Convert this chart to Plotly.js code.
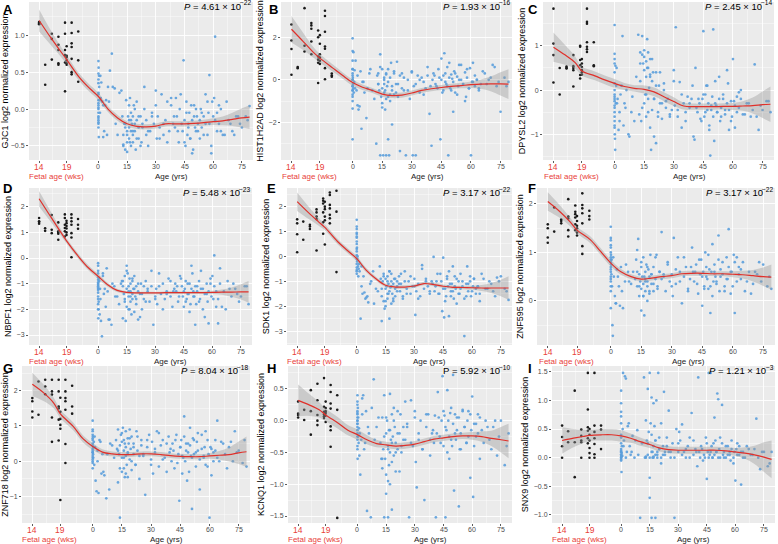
<!DOCTYPE html>
<html><head><meta charset="utf-8">
<script src="https://cdn.plot.ly/plotly-3.0.1.min.js"></script>
<style>html,body{margin:0;padding:0;background:#fff}#chart{width:778px;height:544px}</style>
</head><body><div id="chart"></div>
<script>
// ---------------- DATA ----------------
const genes = ['GJC1','HIST1H2AD','DPYSL2','NBPF1','SDK1','ZNF595','ZNF718','KCNQ1','SNX9'];
const panelLetters = ['A','B','C','D','E','F','G','H','I'];
const pMantissa = ['4.61','1.93','2.45','5.48','3.17','3.17','8.04','5.92','1.21'];
const pExponent = ['−22','−16','−14','−23','−22','−22','−18','−10','−3'];

// shared x-axis: fetal weeks (14..21) drawn left of birth, then age in years
const xTickPos = [-31,-16.6,0,15,30,45,60,75];
const xTickLabels = ['14','19','0','15','30','45','60','75'];
const fetalTickCount = 2; // first two ticks are fetal weeks (red)

const fetalWeeks = [14,14,14,14, 15.1,15.1, 16.3,16.3,16.3, 17.5,17.5,17.5,17.5,17.5,
  18.7,18.7,18.7,18.7,18.7,18.7, 19,19,19,19,19,19, 19.9,19.9,19.9,19.9,19.9,19.9,19.9, 21.1,21.1,21.1];
const postnatalAges = [0,0,0,0,0,0,0,0,0,0,0,0,0.1,0.2,0.3,0.4,0.6,0.8,
  1,1.5,2,2.5,3,4,4.5,5,6,7,8.5,10,
  12,13,13,13.5,14,14,14.5,15,15,15,15.5,16,16,16,16.5,17,17,17,17.5,18,18,18,18.5,19,19,19.5,20,20,21,21,
  22,22.5,23,24,25,26,27,28,29,30,30.5,31,32,33,34,35,36,37,38,39,40,40.5,
  41,42,43,44,44.5,45,45.5,46,46.5,47,48,48.5,49,50,50.5,51,52,53,54,55,56,57,58,59,60,60.5,
  61,62,63,64,65,67,69,71,73,75,77,79,
  0,0,0,0,0,0, 1.2,2.5,3.5,5.5,7.5,9,11,12.5,
  13,14,15,16,16.5,17,18,19,20,21,22,23,24,25,
  26,28,30,32,34,36,38,39.5,
  41.5,42.5,43.5,45,46,47,47.5,48,49,49.5,50,51,51.5,52,53,53.5,54,55,56,57,57.5,58,59,59.5,61,62,
  63,64,66,68,70,72,74,78];

// expression values (log2 normalized)
const A_fetal = [1.17,1.15,1.18,1.16, 0.6,0.33, 1.02,0.67,0.95, 0.98,0.87,0.8,0.62,0.6, 1.17,1.02,0.8,0.73,0.63,0.24, 0.72,0.6,0.66,0.85,0.7,0.62, 1.17,1.03,0.89,0.84,0.68,0.5,0.47, 1.05,0.37,0.66];
const A_post = [0.65,0.48,0.2,0.12,0.05,0.0,-0.05,-0.1,-0.15,-0.18,-0.2,0.08,0.56,-0.38,0.45,0.3,0.12,-0.05,
  0.45,0.36,0.1,0.05,-0.3,0.12,-0.35,0.3,0.52,0.75,0.28,-0.35,
  0.25,-0.35,-0.5,-0.2,-0.25,-0.55,0.12,-0.3,-0.45,-0.58,-0.1,-0.25,-0.4,-0.15,0.15,-0.05,-0.3,-0.5,-0.2,-0.35,-0.1,-0.45,0.05,-0.2,-0.3,-0.55,-0.15,0.1,-0.25,-0.4,
  -0.1,-0.45,-0.2,0.3,-0.15,-0.5,-0.3,-0.05,-0.2,0.25,-0.4,-0.1,-0.25,0.2,-0.35,-0.15,0.1,-0.3,0.05,-0.2,-0.25,0.15,
  -0.1,-0.45,0.2,-0.3,0.66,-0.15,-0.5,-0.05,-0.35,-0.2,-0.4,0.05,-0.6,-0.1,-0.25,0.0,-0.3,-0.15,-0.05,-0.35,-0.2,0.1,0.46,-0.5,-0.1,0.15,
  0.98,-0.05,0.05,-0.3,-0.35,0.1,-0.2,-0.35,-0.1,-0.25,-0.1,0.04,
  0.35,-0.25,0.22,-0.12,0.02,0.4, 0.15,-0.38,0.05,0.1,0.3,-0.2,0.22,-0.1,
  -0.48,-0.2,-0.35,0.05,-0.45,-0.15,-0.3,0.0,-0.4,-0.1,-0.5,-0.25,0.0,-0.35,
  -0.3,-0.1,0.05,-0.4,-0.2,-0.45,0.15,-0.1,
  -0.3,0.0,-0.2,-0.45,0.1,-0.25,-0.05,-0.4,-0.15,-0.55,0.05,-0.3,-0.1,-0.2,-0.4,0.0,-0.25,-0.1,0.2,-0.35,-0.05,-0.2,-0.6,0.1,-0.15,-0.3,
  -0.2,0.0,-0.35,-0.15,-0.3,-0.1,-0.2,-0.15];
const B_fetal = [2.6,1.85,1.45,0.24, 0.6,0.55, 3.37,1.33,1.6, 2.67,2.56,1.8,1.2,2.4, 2.32,2.0,1.1,0.95,0.8,-0.15, 1.7,1.2,0.9,1.05,2.1,0.75, 3.25,3.0,2.26,1.57,1.46,0.55,0.03, 0.2,0.15,0.3];
const B_post = [1.95,1.35,0.9,0.5,0.2,0.0,-0.3,-0.5,-0.7,-1.0,-1.35,-2.8,0.1,-0.2,-0.4,1.3,-0.6,-0.1,
  0.45,0.9,-0.5,-1.2,-1.4,0.4,-2.3,-0.1,-0.6,-1.8,0.3,-0.5,
  -3.0,0.3,-0.2,-0.5,-3.55,1.2,-0.8,0.5,-0.4,-1.1,-3.55,0.1,-0.2,-0.6,-1.4,-3.55,0.25,-0.9,-0.3,-2.8,0.5,-0.1,-3.55,-0.7,-1.0,0.8,-0.5,-2.1,0.3,-0.7,
  -0.2,0.85,-0.8,-3.35,0.3,-0.5,-3.55,0.0,-0.9,0.4,-3.55,-0.3,-3.55,0.2,-0.6,0.1,-0.1,-0.4,0.6,-1.6,-3.1,0.0,
  0.3,-0.2,-0.4,0.1,-2.8,1.0,-0.6,0.2,1.25,-0.1,-0.3,-3.55,0.8,-0.5,0.05,-1.5,0.3,-0.7,0.0,0.7,-0.2,-1.0,0.5,-0.4,-3.55,-0.1,
  0.8,-0.3,0.0,-0.5,-0.2,0.3,0.0,0.7,-0.3,-1.5,0.1,-0.1,
  0.5,-0.8,0.3,-0.3,-0.5,0.0, -0.4,0.2,-1.25,-0.1,-0.4,0.5,-0.9,0.2,
  -0.2,0.6,-1.3,0.0,-0.5,0.3,-0.8,0.1,-0.3,0.4,-0.6,-0.2,0.2,-0.4,
  0.1,-0.5,0.35,-0.2,0.0,-0.7,0.2,-0.3,
  0.2,-0.3,0.5,0.0,-0.5,0.3,-0.2,0.6,0.1,-0.4,0.25,-0.1,0.4,-0.6,0.15,-0.3,0.7,0.0,-0.2,0.35,-0.8,0.1,-0.4,0.55,-0.1,0.2,
  0.0,-0.4,0.4,-0.2,0.1,0.6,-0.1,-0.3];
const C_fetal = [1.84,1.05,0.79,0.17, -0.1,0.5, 0.53,0.49,0.5, 0.79,0.54,0.45,0.08,0.5, 1.0,0.98,0.68,0.56,0.34,0.26, 0.52,0.6,0.45,0.4,0.35,0.7, 1.84,1.54,1.5,1.08,0.98,0.92,0.86, 1.08,0.56,0.54];
const C_post = [1.47,0.82,0.7,0.15,-0.1,-0.15,-0.2,-0.35,-0.5,-0.6,-0.7,-0.85,-1.0,-1.1,-1.35,0.55,-0.3,0.1,
  0.5,-0.2,-0.9,-0.5,-0.1,1.22,-0.8,-0.3,0.0,-1.0,-0.5,-0.7,
  1.25,0.85,0.2,-0.7,1.22,0.8,0.6,-0.3,0.75,0.45,-0.1,0.65,0.3,-0.6,1.15,0.85,0.5,-0.2,0.05,0.35,-0.85,0.7,-1.35,0.2,-0.45,0.4,-1.05,-0.2,-1.2,0.4,
  -0.5,0.1,-0.3,-0.65,0.15,-0.4,-0.2,-0.55,-0.45,0.45,-0.35,1.42,-0.6,0.18,-0.85,-0.3,-0.5,-0.15,-0.4,-0.2,-1.05,-1.12,
  0.5,-0.5,-0.3,-0.7,-0.2,1.33,-0.6,-0.1,0.1,-0.45,-0.9,-1.48,-0.35,1.37,-1.15,-0.3,-0.5,0.3,-0.6,-0.2,-0.45,0.45,-0.9,-0.7,0.7,-0.25,
  -0.85,-0.5,-0.05,0.0,-0.55,-0.3,-0.6,0.58,-0.9,-0.45,-0.25,-0.5,
  0.4,-0.4,0.0,-0.8,0.6,-0.25, -0.3,-0.7,0.1,-0.4,-1.05,-0.15,0.3,-0.55,
  0.6,-0.4,0.9,-0.1,0.5,-0.5,0.3,0.7,-0.2,0.1,-0.6,0.4,-0.3,0.0,
  -0.25,-0.6,0.2,-0.45,-0.1,-0.7,-0.3,0.1,
  -0.4,-0.2,-0.65,-0.1,-0.5,0.1,-0.3,-0.8,-0.45,-0.15,-0.6,0.2,-0.35,-0.5,-0.2,-0.7,-0.4,-0.1,-0.55,-0.3,0.15,-0.45,-0.25,-0.6,-0.35,-0.15,
  -0.4,-0.2,-0.55,-0.3,-0.45,-0.6,-0.35,-0.25];
const D_fetal = [1.56,1.43,1.34,1.4, 1.16,1.06, 1.68,0.97,1.1, 1.39,0.71,1.04,1.0,0.95, 1.7,1.56,1.3,1.17,1.04,0.84, 1.36,1.25,1.15,1.0,0.9,1.45, 1.7,1.56,1.43,1.3,0.97,0.8,0.03, 1.52,1.14,1.3];
const D_post = [-0.2,-0.5,-0.75,-0.85,-0.95,-1.0,-1.05,-1.1,-1.2,-1.35,-1.5,-1.8,-2.35,-2.0,-1.7,-0.8,-0.9,-2.2,
  -1.2,-2.45,-3.05,-0.6,-1.4,-1.9,-0.4,-1.3,-2.4,-2.6,-1.1,-1.5,
  -1.0,-0.9,-2.35,-1.4,-0.7,-1.6,-2.45,-0.3,-1.2,-1.9,-0.6,-1.5,-1.1,-2.0,-0.8,-1.3,-1.7,-1.0,-2.2,-1.4,-0.9,-1.6,-1.2,-2.1,-0.7,-1.5,-1.8,-1.1,-2.4,-1.3,
  -1.4,-1.0,-2.0,-1.6,-0.9,-1.3,-1.7,-1.1,-2.6,-1.5,-1.2,-1.8,-0.6,-1.4,-1.0,-1.6,-1.3,-0.8,-1.5,-1.9,-1.2,-1.0,
  -1.3,-1.7,-0.7,-1.1,-1.5,-1.9,-1.2,-0.9,-1.6,-1.4,-1.0,-1.8,-0.3,-1.3,-1.5,-2.6,-1.1,-1.7,-0.5,-1.2,-2.3,-1.4,-2.55,-1.0,-0.7,-1.6,
  0.1,-1.3,-2.55,-0.4,-1.9,-2.0,-1.2,-1.0,-1.4,-1.5,-1.1,-1.8,
  -0.6,-1.25,-1.6,-0.3,-1.15,-2.0, -1.6,-0.7,-1.2,-2.4,-1.0,-1.5,-1.8,-0.9,
  -1.1,-1.7,-0.5,-1.3,-2.0,-1.5,-0.8,-1.2,-1.6,-1.0,-2.3,-1.4,-1.1,-1.7,
  -1.2,-0.5,-1.6,-1.1,-2.0,-1.4,-0.9,-1.3,
  -1.1,-1.5,-0.8,-1.3,-1.7,-1.0,-1.4,-2.1,-1.2,-0.6,-1.5,-1.1,-1.8,-1.3,-0.9,-1.6,-1.2,-2.0,-1.4,-1.0,-1.7,-1.3,-0.8,-1.5,-1.1,-1.9,
  -1.6,-1.0,-1.3,-0.9,-1.5,-1.2,-1.7,-1.1];
const E_fetal = [1.49,1.33,0.89,0.17, 1.4,0.67, 1.27,1.2,1.1, 1.89,1.77,0.24,1.5,1.6, 2.33,2.24,2.13,1.77,1.37,0.91, 2.0,1.9,1.6,0.48,1.45,2.2, 2.57,2.47,2.07,1.93,1.67,1.53,1.33, 2.64,-0.63,1.8];
const E_post = [1.47,1.1,0.9,0.75,0.6,0.3,0.05,-0.3,-0.45,-0.55,-0.7,0.95,0.35,-0.2,-0.1,0.0,-0.4,-0.8,
  -0.5,-0.6,-2.5,-0.4,-1.5,-1.45,-1.7,-1.65,-1.85,-1.1,-0.6,-1.3,
  -0.4,-1.6,-2.6,-1.0,-1.8,-0.7,-2.1,-1.3,-0.9,-2.0,-1.2,-1.5,-1.7,-0.8,-1.1,-2.5,-1.4,-0.6,-1.25,-1.9,-1.0,-0.7,-1.5,-1.1,-1.8,-0.9,-1.3,-1.6,-1.0,-1.2,
  -0.8,-1.4,-1.1,-1.7,-0.6,-1.3,-1.0,-1.5,-1.2,-0.9,-2.35,-1.4,-1.1,-1.6,-0.35,-1.3,-0.9,-1.2,-1.5,-1.0,-0.02,-1.4,
  -1.2,-0.7,-1.5,-1.0,-2.2,-0.05,-2.45,-1.3,-1.6,-0.8,-2.4,-1.1,-1.4,-0.4,-1.7,-1.2,-0.9,-1.5,-1.3,-1.0,-3.2,-1.6,-1.1,-0.8,-1.4,-1.2,
  -0.9,-1.5,-1.2,-1.8,-0.7,-1.3,-1.0,-1.4,-0.85,-0.8,-1.3,-1.75,
  0.5,-0.1,1.2,0.2,-0.6,0.8, -0.3,-1.2,-0.8,-1.6,-1.0,-1.9,-1.4,-0.9,
  -1.3,-0.8,-1.8,-1.0,-1.5,-0.6,-1.2,-1.7,-0.9,-1.4,-1.1,-0.7,-1.6,-1.0,
  -1.5,-0.8,-1.2,-1.7,-0.5,-1.0,-1.4,-1.1,
  -1.0,-1.5,-0.7,-1.3,-1.8,-0.9,-1.2,-0.6,-1.6,-1.1,-1.4,-0.8,-1.3,-1.9,-1.0,-1.5,-0.7,-1.2,-1.7,-1.1,-0.4,-1.4,-1.0,-1.6,-0.9,-1.3,
  -1.2,-1.5,-0.9,-1.3,-1.1,-1.6,-1.0,-1.4];
const F_fetal = [1.58,1.31,1.2,1.5, 1.93,1.43, 1.68,1.65,1.6, 2.1,1.74,1.7,1.46,1.33, 1.97,1.84,1.79,1.72,1.58,1.46, 1.41,1.5,1.55,1.65,1.35,1.75, 2.22,1.98,1.91,1.81,1.6,1.13,0.97, 1.86,1.68,1.75];
const F_post = [1.53,1.3,1.15,1.0,0.9,0.8,0.7,0.6,0.5,0.4,0.2,-0.15,0.95,0.75,0.55,0.85,0.3,-0.5,
  -0.72,0.5,0.1,-0.05,0.65,0.3,-0.1,0.7,-0.15,0.4,0.6,0.35,
  0.45,1.05,0.3,1.28,0.1,0.55,0.4,-0.2,0.7,0.25,0.5,0.9,0.1,0.35,-0.3,0.6,0.2,0.45,0.75,0.0,0.4,0.3,0.65,0.15,0.5,0.95,0.35,0.55,0.2,0.7,
  0.45,0.95,0.3,0.6,1.42,0.5,0.2,0.75,0.4,0.55,0.1,1.3,0.35,0.9,0.6,-0.05,0.5,0.7,0.25,0.45,1.1,0.6,
  0.4,0.75,0.15,0.55,0.85,-0.1,0.6,0.3,1.0,0.5,0.25,0.65,-0.25,1.17,0.4,0.6,0.35,1.35,0.5,0.8,0.2,0.45,1.48,0.6,0.3,0.95,
  -0.25,0.9,0.55,0.65,0.8,0.4,0.15,0.6,0.8,0.75,0.3,0.25,
  1.1,0.65,0.45,0.85,0.3,1.25, 0.9,-0.05,0.5,0.2,0.75,0.4,0.6,0.85,
  0.6,0.3,0.8,0.1,0.5,0.4,0.7,0.2,0.55,0.35,0.9,0.25,0.6,0.45,
  0.55,0.8,0.3,0.65,0.4,0.9,0.2,0.7,
  0.6,0.35,0.85,0.5,0.25,0.7,0.45,0.95,0.3,0.6,0.1,0.75,0.5,0.4,0.85,0.2,0.65,0.55,0.3,0.9,0.45,0.7,0.15,0.6,0.8,0.4,
  0.7,0.45,0.2,0.6,0.35,0.55,0.4,0.5];
const G_fetal = [1.79,1.7,1.41,1.24, 2.26,1.32, 2.31,2.12,1.9, 2.31,1.98,1.89,1.24,0.55, 2.31,1.98,1.55,1.5,1.18,0.59, 1.03,0.92,1.4,-1.1,1.2,1.8, 2.31,1.98,1.79,1.7,1.46,0.49,-0.05, 2.14,1.35,1.55];
const G_post = [1.15,0.85,0.6,0.45,0.35,0.25,0.15,0.05,-0.05,0.0,0.5,0.3,0.7,0.2,0.1,0.4,0.55,-0.1,
  0.7,-0.55,-0.85,0.3,-0.9,0.55,-0.35,0.2,-0.4,-1.05,-0.8,0.45,
  0.6,0.9,-0.6,0.2,0.45,-1.6,0.75,0.1,-0.3,0.55,0.95,0.3,-0.2,0.6,-0.45,0.15,0.85,0.4,-0.1,0.65,0.25,-0.45,0.5,0.05,0.9,0.35,-0.25,0.7,0.2,0.5,
  -0.1,0.85,0.3,-0.5,0.6,0.15,-0.95,0.4,0.75,0.05,0.55,-0.35,0.25,0.85,-0.15,0.45,0.6,0.1,-0.3,0.7,0.35,0.0,
  0.5,-0.2,0.75,0.2,-1.12,0.4,0.6,-0.35,0.1,1.27,0.3,-0.55,0.5,0.95,0.15,-1.35,0.6,0.25,0.8,-0.8,0.35,0.1,0.85,-0.15,-1.6,0.4,
  -0.4,0.25,0.6,1.15,0.0,0.5,-0.2,0.55,0.85,0.3,-0.05,-0.15,
  0.9,0.25,-0.2,0.65,0.1,0.75, 0.4,0.0,0.6,-0.3,0.2,0.5,0.1,0.35,
  0.3,-0.2,0.8,0.1,0.5,-0.35,0.2,0.65,0.0,0.4,-0.1,0.7,0.15,0.45,
  0.2,0.6,-0.1,0.35,0.8,0.05,0.5,0.25,
  0.3,0.6,-0.05,0.4,0.15,0.7,0.0,0.5,0.25,-0.3,0.45,0.1,0.65,0.2,-0.15,0.55,0.3,0.05,0.75,0.15,0.4,-0.1,0.6,0.2,0.35,0.0,
  0.3,0.1,0.55,0.2,0.4,0.0,0.25,0.6];
const H_fetal = [0.3,0.11,0.09,0.05, 0.17,0.01, 0.48,-0.22,0.15, 0.58,0.32,0.09,0.0,-0.07, 0.67,0.22,0.14,0.1,0.07,0.04, -0.02,0.2,0.12,0.3,0.08,0.15, 0.56,0.45,0.27,0.19,-0.09,-0.15,-0.41, 0.17,-1.53,0.4];
const H_post = [0.4,0.25,0.15,0.1,0.05,0.0,-0.05,-0.1,-0.15,-0.2,-0.3,-0.45,-0.6,0.2,-0.25,0.05,-0.35,-0.12,
  -0.55,-0.85,-0.3,0.35,0.4,-0.35,0.15,-1.42,-0.2,-1.52,0.65,-0.1,
  -0.35,0.05,-0.75,-0.45,-1.52,0.4,-0.6,-0.2,-1.15,-0.85,0.0,-1.52,-0.4,-0.95,-0.15,0.42,-0.5,-1.0,-0.3,0.1,-1.4,-0.65,-0.25,0.2,-0.55,-0.1,-0.8,-0.35,0.15,-0.45,
  -0.2,0.1,-0.5,-0.3,0.3,-0.05,-1.52,0.32,-0.4,0.15,-0.65,-1.05,-0.3,0.0,-0.45,-1.25,-0.1,0.1,-0.55,-0.2,-0.35,0.08,
  -1.52,0.45,-0.25,0.0,0.7,-0.4,0.08,-1.52,-0.15,0.48,-0.6,0.12,-0.3,0.72,-1.1,-0.2,0.05,-1.35,-0.45,0.17,-0.1,-0.35,0.15,-0.9,0.38,-1.2,
  -0.05,-0.25,0.1,-0.6,-0.15,0.0,-0.3,-0.1,-0.55,0.0,-0.7,-0.2,
  0.3,-0.05,-0.4,0.12,-0.25,0.0, -0.2,0.1,-0.45,-0.1,0.2,-0.3,0.05,-0.6,
  -0.6,-0.25,0.05,-0.45,-0.7,-0.15,-0.35,0.0,-0.5,-0.2,-0.8,-0.4,-0.1,-0.3,
  -0.1,-0.35,0.05,-0.2,-0.45,0.1,-0.3,-0.15,
  -0.2,0.05,-0.35,0.15,-0.1,-0.5,0.0,-0.25,0.2,-0.4,-0.05,0.1,-0.3,-0.15,0.05,-0.45,-0.2,0.15,-0.1,-0.35,0.0,-0.25,0.1,-0.15,-0.4,-0.05,
  -0.2,0.05,-0.35,-0.1,-0.45,0.0,-0.25,-0.4];
const I_fetal = [0.56,0.36,0.2,0.0, 0.46,0.27, 1.17,-0.34,0.27, 0.49,0.38,0.27,0.0,0.3, 1.48,0.84,0.53,0.47,0.34,0.25, 0.17,0.08,0.0,0.4,0.3,0.5, 1.48,0.56,0.45,0.34,0.24,0.06,0.0, 0.56,0.49,0.15];
const I_post = [1.17,0.95,0.72,0.6,0.35,0.15,0.1,0.05,0.0,-0.03,-0.05,0.1,0.02,-0.25,0.08,0.2,0.03,0.5,
  1.48,0.3,1.42,1.38,0.1,0.6,0.2,0.05,0.38,0.0,0.48,-1.05,
  1.4,0.65,0.0,0.3,1.2,0.05,0.45,1.48,-0.35,-0.7,0.6,0.1,1.05,-1.05,0.0,0.95,0.2,0.02,0.55,-1.05,0.3,0.05,1.0,0.1,0.0,1.48,0.35,0.15,-0.1,0.6,
  0.05,1.15,0.1,0.2,0.82,0.0,0.25,-1.05,0.5,0.1,0.45,0.3,0.58,0.1,0.0,0.2,0.35,0.78,0.05,0.15,-0.15,1.4,
  0.1,0.2,-0.05,0.0,0.35,-0.37,0.1,1.48,0.05,1.48,0.0,0.25,0.7,0.1,1.12,1.02,0.35,0.92,0.0,0.2,0.05,0.1,0.3,-0.1,-0.4,0.15,
  0.05,0.2,-0.47,0.1,0.0,0.15,0.05,0.68,-0.2,0.1,-0.15,0.1,
  0.4,0.0,0.25,0.05,0.8,0.12, 0.2,0.0,0.55,0.1,0.3,0.05,0.25,0.0,
  0.02,0.25,0.0,0.4,0.1,0.0,0.3,0.05,0.15,0.0,0.2,0.05,0.35,0.1,
  0.1,0.0,0.25,0.05,0.15,0.0,0.3,0.1,
  0.0,0.15,0.05,0.25,0.0,0.1,0.2,0.0,0.05,0.3,0.1,0.0,0.15,0.0,0.25,0.05,0.1,0.0,0.2,0.05,-0.05,0.15,0.0,0.1,0.25,0.05,
  0.1,0.0,0.2,0.05,0.15,0.0,0.1,-0.1];

// LOESS fit at these axis positions, with CI half-widths
const curveX = [-31,-25,-20,-16.6,-10,-5,0,5,10,15,20,25,30,35,40,45,50,55,60,65,70,75,79];
const A_fit = [1.2,0.97,0.79,0.67,0.43,0.29,0.17,0.0,-0.12,-0.2,-0.235,-0.24,-0.23,-0.2,-0.2,-0.2,-0.195,-0.185,-0.17,-0.16,-0.14,-0.12,-0.11];
const A_se  = [0.15,0.1,0.07,0.06,0.05,0.05,0.05,0.04,0.04,0.035,0.035,0.035,0.035,0.035,0.035,0.035,0.035,0.04,0.045,0.06,0.09,0.13,0.16];
const B_fit = [2.38,1.8,1.3,1.02,0.55,0.2,-0.13,-0.35,-0.5,-0.67,-0.74,-0.72,-0.62,-0.5,-0.42,-0.36,-0.31,-0.27,-0.23,-0.2,-0.19,-0.19,-0.2];
const B_se  = [0.62,0.4,0.25,0.2,0.17,0.15,0.15,0.13,0.12,0.12,0.12,0.12,0.12,0.12,0.12,0.12,0.12,0.13,0.15,0.22,0.35,0.55,0.7];
const C_fit = [0.97,0.79,0.62,0.43,0.32,0.23,0.15,0.08,0.04,0.015,-0.04,-0.15,-0.26,-0.36,-0.375,-0.375,-0.375,-0.37,-0.37,-0.36,-0.35,-0.33,-0.32];
const C_se  = [0.33,0.22,0.14,0.1,0.1,0.1,0.1,0.08,0.07,0.09,0.1,0.1,0.1,0.08,0.07,0.07,0.07,0.07,0.08,0.11,0.18,0.3,0.4];
const D_fit = [2.31,1.62,1.05,0.67,0.03,-0.39,-0.71,-1.04,-1.26,-1.34,-1.36,-1.36,-1.36,-1.35,-1.35,-1.35,-1.35,-1.35,-1.34,-1.33,-1.33,-1.32,-1.32];
const D_se  = [0.3,0.2,0.13,0.1,0.1,0.1,0.1,0.08,0.06,0.05,0.05,0.05,0.05,0.05,0.05,0.05,0.05,0.05,0.06,0.1,0.18,0.3,0.42];
const E_fit = [2.2,1.75,1.4,1.17,0.6,0.25,-0.09,-0.56,-0.9,-1.16,-1.23,-1.23,-1.19,-1.09,-1.13,-1.2,-1.24,-1.25,-1.26,-1.27,-1.27,-1.27,-1.27];
const E_se  = [0.37,0.25,0.16,0.12,0.11,0.1,0.1,0.09,0.08,0.07,0.07,0.07,0.07,0.07,0.07,0.07,0.07,0.07,0.08,0.12,0.2,0.33,0.47];
const F_fit = [2.05,1.84,1.63,1.46,1.26,1.02,0.78,0.6,0.5,0.45,0.47,0.5,0.52,0.56,0.57,0.57,0.56,0.56,0.55,0.54,0.52,0.5,0.49];
const F_se  = [0.19,0.13,0.09,0.07,0.07,0.07,0.07,0.06,0.05,0.05,0.05,0.05,0.05,0.05,0.05,0.05,0.05,0.05,0.06,0.08,0.12,0.19,0.26];
const G_fit = [2.18,1.93,1.65,1.34,0.99,0.64,0.42,0.26,0.21,0.19,0.19,0.21,0.21,0.19,0.16,0.14,0.13,0.13,0.15,0.17,0.19,0.24,0.27];
const G_se  = [0.33,0.23,0.15,0.12,0.11,0.1,0.1,0.08,0.07,0.07,0.07,0.07,0.07,0.07,0.07,0.07,0.07,0.07,0.08,0.12,0.2,0.32,0.43];
const H_fit = [0.32,0.245,0.17,0.09,-0.04,-0.15,-0.22,-0.3,-0.36,-0.38,-0.4,-0.39,-0.37,-0.33,-0.29,-0.27,-0.25,-0.24,-0.24,-0.25,-0.28,-0.3,-0.32];
const H_se  = [0.25,0.17,0.12,0.1,0.09,0.08,0.08,0.07,0.06,0.05,0.05,0.05,0.05,0.05,0.05,0.05,0.05,0.05,0.06,0.08,0.12,0.2,0.27];
const I_fit = [0.3,0.34,0.37,0.39,0.4,0.4,0.38,0.34,0.28,0.23,0.17,0.14,0.13,0.13,0.13,0.13,0.13,0.12,0.1,0.08,0.05,0.01,-0.03];
const I_se  = [0.23,0.16,0.12,0.1,0.1,0.1,0.1,0.08,0.07,0.06,0.06,0.06,0.06,0.06,0.06,0.06,0.06,0.06,0.07,0.1,0.16,0.26,0.33];

// ---------------- LAYOUT HELPERS ----------------
const W = 778, H = 544;
const RED = '#e8403a', BLUE = '#5b9fdc';
const FONT = 'Liberation Sans, Arial, sans-serif';
// gray panel boxes in pixels [x0, x1, y0, y1]
const boxes = [
  [29,253,2,160],[281,512,2,160],[543,774,2,160],
  [29,252,188,345],[287,512,188,345],[537,775,188,345],
  [22,250,366,523],[288,512,366,523],[552,775,366,523]];
const yRanges = [[-0.69,1.45],[-3.77,3.66],[-1.58,1.99],[-3.39,2.73],[-3.56,2.75],[-0.91,2.33],[-1.75,2.70],[-1.61,0.86],[-1.14,1.60]];
const yDticks = [0.5,2,1,1,1,1,1,0.5,0.5];
const letterPos = [[2,1],[268,1],[527,1],[2,180],[266,180],[527,180],[2,360],[266,360],[527,360]];
const fetalPos = w => -31 + (w - 14) * 2.88;

const fetalSets = [A_fetal,B_fetal,C_fetal,D_fetal,E_fetal,F_fetal,G_fetal,H_fetal,I_fetal];
const postSets = [A_post,B_post,C_post,D_post,E_post,F_post,G_post,H_post,I_post];
const fitSets = [A_fit,B_fit,C_fit,D_fit,E_fit,F_fit,G_fit,H_fit,I_fit];
const seSets = [A_se,B_se,C_se,D_se,E_se,F_se,G_se,H_se,I_se];

// text width helper (for placing the P-value pieces side by side)
const mctx = document.createElement('canvas').getContext('2d');
function textW(txt, size, style) {
  mctx.font = (style ? style + ' ' : '') + size + 'px "Liberation Sans", Arial, sans-serif';
  return mctx.measureText(txt).width;
}

const xMinor = [];
for (let k = 0; k < xTickPos.length - 1; k++) xMinor.push((xTickPos[k] + xTickPos[k+1]) / 2);

const traces = [], annotations = [];
const layout = {
  width: W, height: H, margin: {l:0, r:0, t:0, b:0},
  paper_bgcolor: '#ffffff', plot_bgcolor: '#ebebeb', showlegend: false,
  font: {family: FONT, color: '#000'},
  annotations: annotations
};

const P_SIZE = 9.5, EXP_SIZE = 6.6;

for (let i = 0; i < 9; i++) {
  const n = i === 0 ? '' : String(i + 1);
  const xa = 'x' + n, ya = 'y' + n;
  const b = boxes[i];
  layout['xaxis' + n] = {
    domain: [b[0] / W, b[1] / W], anchor: ya, range: [-36.3, 80.8],
    tickmode: 'array', tickvals: xTickPos, showticklabels: false,
    ticks: 'outside', ticklen: 2, tickwidth: 0.8, tickcolor: '#333',
    showgrid: true, gridcolor: '#ffffff', gridwidth: 0.9, zeroline: false, showline: false,
    minor: {tickmode: 'array', tickvals: xMinor, showgrid: true, gridcolor: '#ffffff', gridwidth: 0.4, ticks: ''},
    automargin: false, fixedrange: true
  };
  const yd = yDticks[i];
  layout['yaxis' + n] = {
    domain: [1 - b[3] / H, 1 - b[2] / H], anchor: xa, range: yRanges[i],
    tickmode: 'linear', dtick: yd, tick0: 0, tickformat: yd < 1 ? '.1f' : 'd',
    ticks: 'outside', ticklen: 2, tickwidth: 0.8, tickcolor: '#333',
    tickfont: {size: 7, color: '#4d4d4d'},
    showgrid: true, gridcolor: '#ffffff', gridwidth: 0.9, zeroline: false, showline: false,
    minor: {dtick: yd / 2, tick0: 0, showgrid: true, gridcolor: '#ffffff', gridwidth: 0.4, ticks: ''},
    title: {text: genes[i] + ' log2 normalized expression', font: {size: 9, color: '#000'}, standoff: 3},
    automargin: false, fixedrange: true
  };

  // points
  traces.push({type: 'scatter', mode: 'markers', xaxis: xa, yaxis: ya,
    x: fetalWeeks.map(fetalPos), y: fetalSets[i],
    marker: {size: 2.6, color: '#1a1a1a'}, hoverinfo: 'skip'});
  traces.push({type: 'scatter', mode: 'markers', xaxis: xa, yaxis: ya,
    x: postnatalAges, y: postSets[i],
    marker: {size: 2.7, color: BLUE, opacity: 0.9}, hoverinfo: 'skip'});
  // confidence band
  const fit = fitSets[i], se = seSets[i];
  traces.push({type: 'scatter', mode: 'lines', xaxis: xa, yaxis: ya,
    x: curveX, y: fit.map((v, k) => v + se[k]),
    line: {width: 0, shape: 'spline', smoothing: 1}, hoverinfo: 'skip'});
  traces.push({type: 'scatter', mode: 'lines', xaxis: xa, yaxis: ya,
    x: curveX, y: fit.map((v, k) => v - se[k]), fill: 'tonexty',
    fillcolor: 'rgba(153,153,153,0.4)',
    line: {width: 0, shape: 'spline', smoothing: 1}, hoverinfo: 'skip'});
  // fitted curve
  traces.push({type: 'scatter', mode: 'lines', xaxis: xa, yaxis: ya,
    x: curveX, y: fit, line: {color: '#e0302a', width: 1.2, shape: 'spline', smoothing: 1}, hoverinfo: 'skip'});

  // P value, built from three pieces: "P" (italic), "= m × 10", exponent (raised)
  const italicP = i !== 7;
  const pPart = 'P\u00a0';
  const mainPart = '= ' + pMantissa[i] + ' × 10';
  const expW = textW(pExponent[i], EXP_SIZE);
  const mainW = textW(mainPart, P_SIZE);
  const common = {xref: xa + ' domain', yref: ya + ' domain', x: 1, y: 1, xanchor: 'right', yanchor: 'top',
    showarrow: false, borderpad: 0, borderwidth: 0};
  annotations.push(Object.assign({}, common, {xshift: -1, yshift: 2.5, text: pExponent[i],
    font: {size: EXP_SIZE, color: '#000', family: FONT}}));
  annotations.push(Object.assign({}, common, {xshift: -1 - expW, yshift: 1, text: mainPart,
    font: {size: P_SIZE, color: '#000', family: FONT}}));
  annotations.push(Object.assign({}, common, {xshift: -1 - expW - mainW, yshift: 1, text: pPart,
    font: {size: P_SIZE, color: '#000', family: FONT, style: italicP ? 'italic' : 'normal'}}));

  // x tick labels (fetal weeks in red, years in gray)
  xTickLabels.forEach((t, k) => {
    const fetal = k < fetalTickCount;
    annotations.push({xref: xa, yref: ya + ' domain', x: xTickPos[k], y: 0, xanchor: 'center', yanchor: 'middle',
      yshift: fetal ? -6.5 : -6, showarrow: false, text: t, borderpad: 0,
      font: fetal ? {size: 8.5, color: RED} : {size: 7, color: '#4d4d4d'}});
  });
  // x labels
  annotations.push({xref: xa, yref: ya + ' domain', x: -22, y: 0, xanchor: 'center', yanchor: 'middle',
    yshift: -16, showarrow: false, text: 'Fetal age (wks)', font: {size: 8, color: RED}, borderpad: 0});
  annotations.push({xref: xa, yref: ya + ' domain', x: 38, y: 0, xanchor: 'center', yanchor: 'middle',
    yshift: -16, showarrow: false, text: 'Age (yrs)', font: {size: 8, color: '#1a1a1a'}, borderpad: 0});
  // panel letter
  annotations.push({xref: 'paper', yref: 'paper', x: letterPos[i][0] / W, y: 1 - letterPos[i][1] / H,
    xanchor: 'left', yanchor: 'top', showarrow: false, text: panelLetters[i],
    font: {size: 13, color: '#000', weight: 'bold'}, borderpad: 0});
}

Plotly.newPlot('chart', traces, layout, {displayModeBar: false, staticPlot: true});
</script>
</body></html>
